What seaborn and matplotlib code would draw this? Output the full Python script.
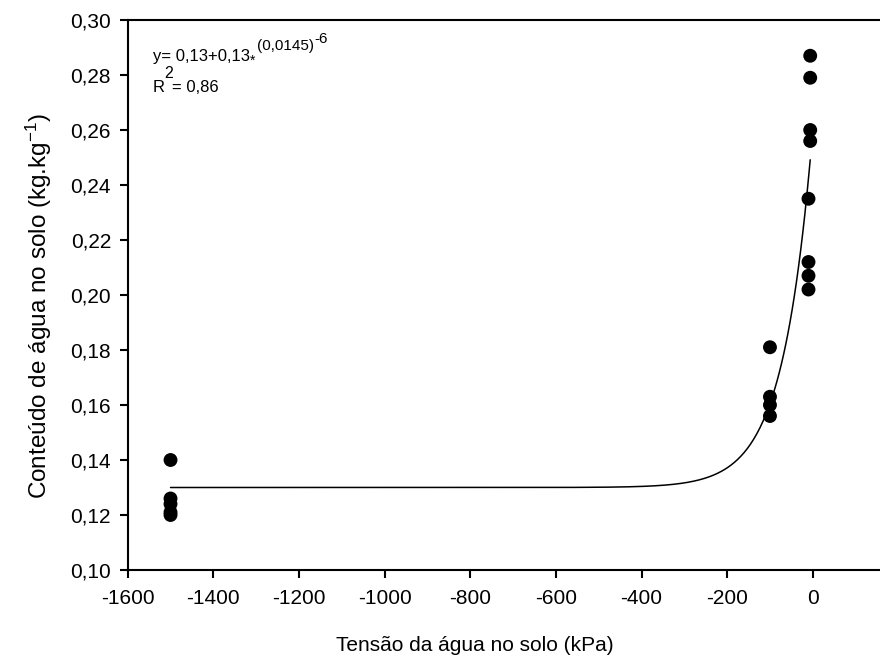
import numpy as np
import pandas as pd
import matplotlib
matplotlib.use("Agg")
import matplotlib.pyplot as plt
import seaborn as sns
from matplotlib.ticker import FuncFormatter

# ---- data ----
tension_kpa = [-1500, -1500, -1500, -1500, -1500,
               -100, -100, -100, -100,
               -6, -6, -6, -6,
               -10, -10, -10, -10]
water_content = [0.140, 0.126, 0.124, 0.121, 0.120,
                 0.181, 0.163, 0.160, 0.156,
                 0.287, 0.279, 0.260, 0.256,
                 0.235, 0.212, 0.207, 0.202]

# fitted model shown on the chart: y = a + b*exp(k*x)
fit_a = 0.13
fit_b = 0.13
fit_k = 0.0145

x_ticks = [-1600, -1400, -1200, -1000, -800, -600, -400, -200, 0]
y_ticks = [0.10, 0.12, 0.14, 0.16, 0.18, 0.20, 0.22, 0.24, 0.26, 0.28, 0.30]

df = pd.DataFrame({"x": tension_kpa, "y": water_content})
xs = np.linspace(min(tension_kpa), max(tension_kpa), 600)
curve = pd.DataFrame({"x": xs, "y": fit_a + fit_b * np.exp(fit_k * xs)})

sns.set_theme(style="ticks")
plt.rcParams["font.family"] = ["Liberation Sans", "DejaVu Sans"]
plt.rcParams["mathtext.fontset"] = "custom"
plt.rcParams["mathtext.rm"] = "Liberation Sans"
plt.rcParams["mathtext.it"] = "Liberation Sans"
plt.rcParams["mathtext.bf"] = "Liberation Sans"

W, H = 880, 663
fig = plt.figure(figsize=(8.8, 6.63), dpi=100)
ax = fig.add_axes([127.7 / W, 1 - 570 / H, 1 - 127.7 / W, (570 - 20) / H])

sns.lineplot(data=curve, x="x", y="y", ax=ax, color="black", linewidth=1.1)
sns.scatterplot(data=df, x="x", y="y", ax=ax, color="black", s=100,
                edgecolor="none", zorder=3)

ax.set_xlim(-1600, 157)
ax.set_ylim(0.10, 0.30)
ax.set_xticks(x_ticks)
ax.set_yticks(y_ticks)
ax.yaxis.set_major_formatter(FuncFormatter(lambda v, p: f"{v:.2f}".replace(".", ",")))
ax.xaxis.set_major_formatter(FuncFormatter(lambda v, p: f"{int(round(v))}"))

for s in ["left", "bottom", "top"]:
    ax.spines[s].set_linewidth(1.5)
    ax.spines[s].set_color("black")
ax.spines["right"].set_visible(False)
ax.tick_params(axis="both", direction="out", length=6, width=1.5,
               labelsize=15, colors="black")
ax.tick_params(axis="y", pad=6)
ax.tick_params(axis="x", pad=8)
ax.tick_params(top=False, right=False)

ax.set_xlabel("Tensão da água no solo (kPa)", fontsize=15, labelpad=20, color="black")
ax.set_ylabel(r"Conteúdo de água no solo (kg.kg$^{-1}$)", fontsize=17.5,
              labelpad=12, color="black")
ax.xaxis.label.set_x((475 - 127.7) / (W - 127.7))
ax.yaxis.label.set_y((570 - 306) / 550)


def ftxt(px, py, s, size):
    fig.text(px / W, 1 - py / H, s, fontsize=size, color="black",
             va="baseline", ha="left")


# equation annotation (pieces positioned like the reference)
ftxt(153, 61, "y= 0,13+0,13", 12)
ftxt(250, 65, "*", 10)
ftxt(257, 50, "(0,0145)", 11)
ftxt(314, 43, "-6", 11)
ftxt(153, 92, "R", 12)
ftxt(164, 78, "2", 11.5)
ftxt(172, 92, "= 0,86", 12)

fig.savefig("out.png", dpi=100)
